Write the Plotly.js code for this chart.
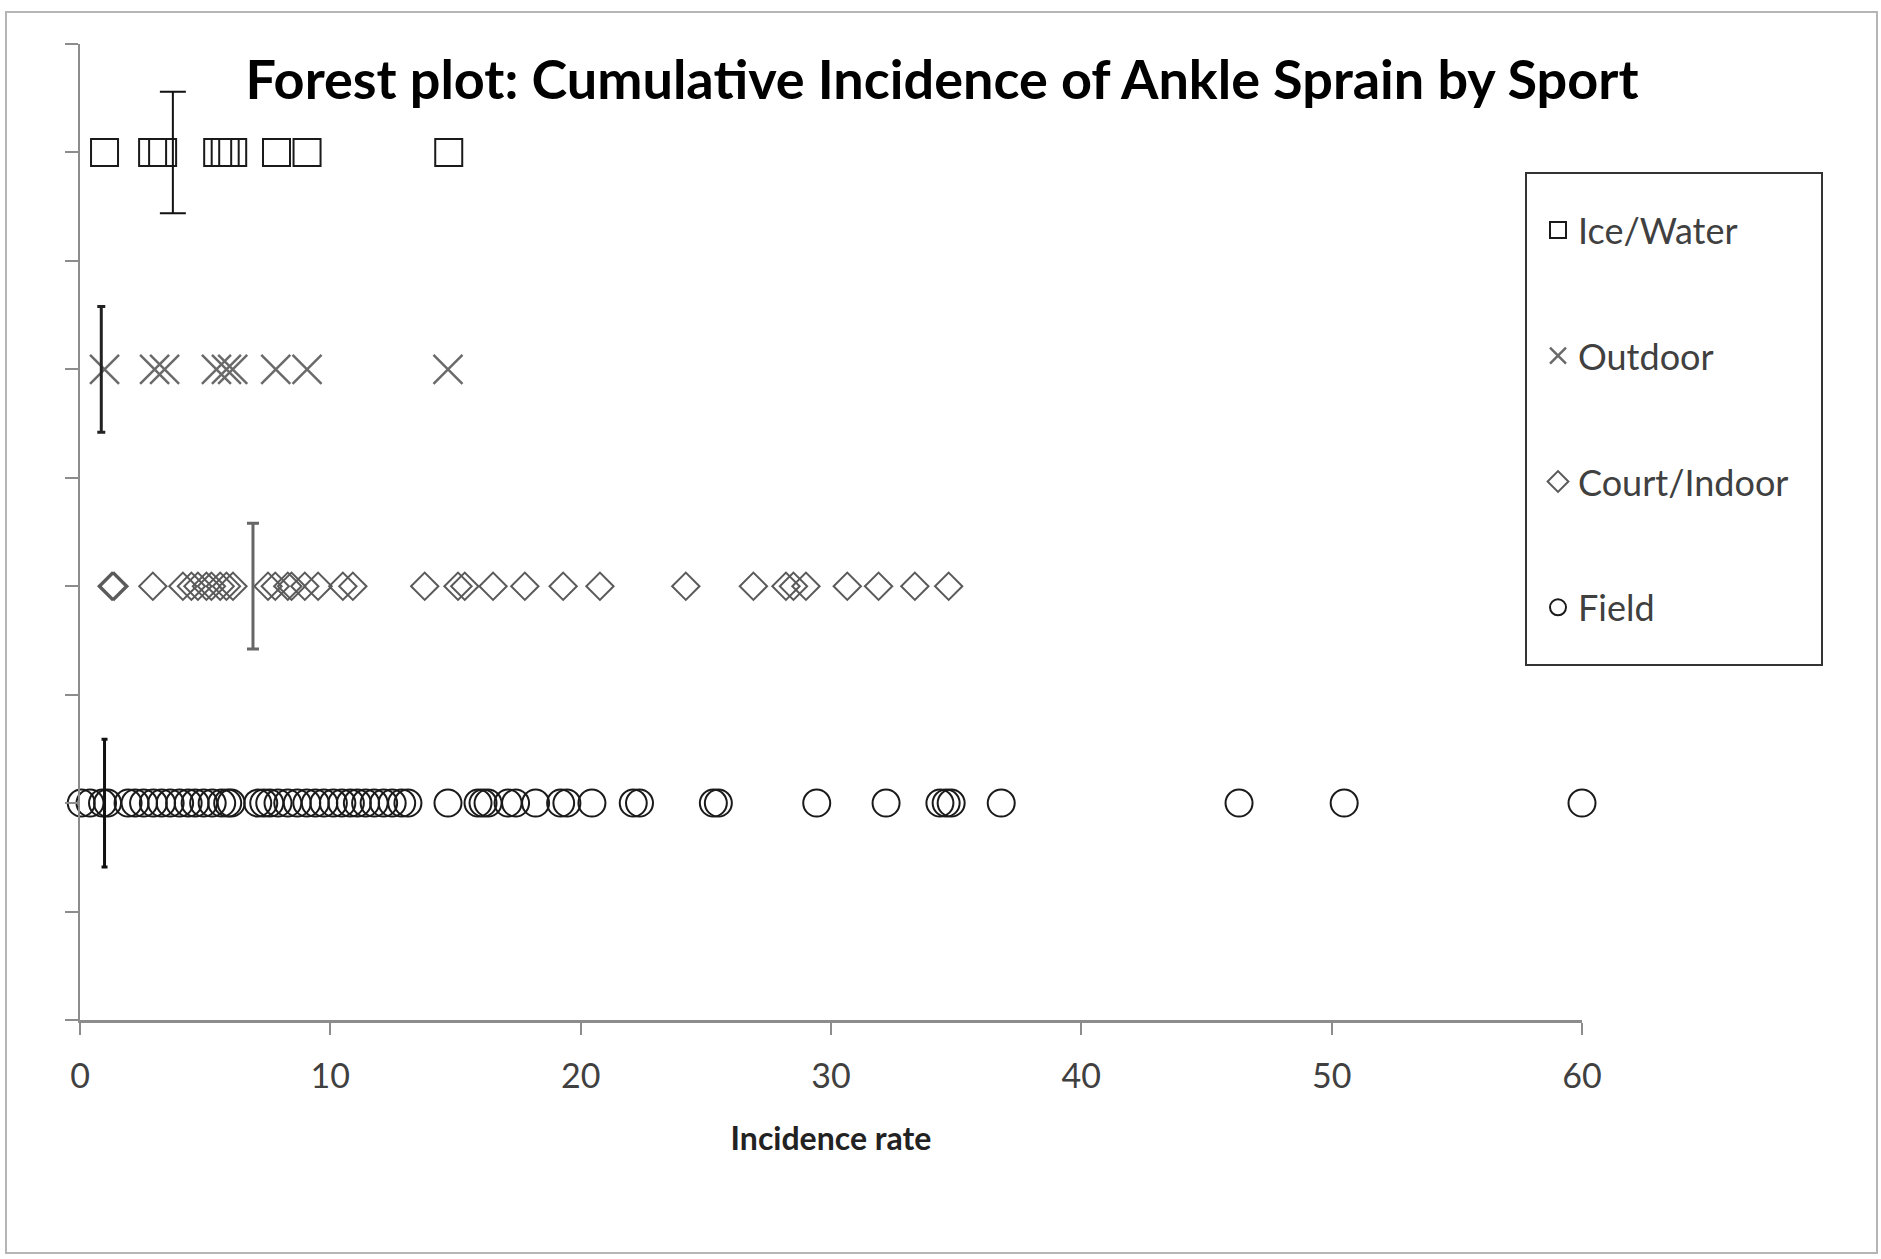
<!DOCTYPE html>
<html>
<head>
<meta charset="utf-8">
<script src="https://cdn.plot.ly/plotly-3.0.1.min.js"></script>
<style>html,body{margin:0;padding:0;background:#fff;}#chart{width:1881px;height:1259px;}</style>
</head>
<body>
<div id="chart"></div>
<script>
// ---- data ----
var seriesNames = ["Ice/Water", "Outdoor", "Court/Indoor", "Field"];
var rowPos = [4, 3, 2, 1];

var iceWater = [0.98, 2.9, 3.3, 5.5, 5.8, 6.1, 7.85, 9.07, 14.73];
var outdoor = [0.98, 2.98, 3.38, 5.45, 5.85, 6.1, 7.82, 9.07, 14.7];
var courtIndoor = [1.28, 1.36, 2.91, 4.11, 4.45, 4.71, 5.05, 5.25, 5.6, 5.85, 6.11,
  7.51, 7.8, 8.3, 8.45, 8.98, 9.51, 10.5, 10.9, 13.77, 15.1, 15.37, 16.5, 17.77,
  19.3, 20.77, 24.2, 26.9, 28.2, 28.5, 29.0, 30.65, 31.9, 33.35, 34.7];
var field = [0.05, 0.4, 0.9, 1.1,
  1.92, 2.2, 2.54, 2.93, 3.26, 3.6, 3.98, 4.32, 4.6, 4.94, 5.28, 5.66, 5.9, 6.04,
  7.1, 7.34, 7.58, 7.91, 8.3, 8.68, 9.06, 9.4, 9.74, 10.12, 10.46, 10.8, 11.08,
  11.41, 11.75, 12.13, 12.47, 12.85, 13.1,
  14.7, 15.9, 16.1, 16.3, 17.1, 17.4, 18.2, 19.2, 19.45, 20.45, 22.1, 22.35,
  25.3, 25.5, 29.43, 32.2, 34.35, 34.6, 34.8, 36.8, 46.3, 50.5, 60.0];

// pooled estimate marks (vertical bars) per series, same order as seriesNames
var pooledX = [3.71, 0.85, 6.91, 0.98];
var pooledHalfSpan = [0.28, 0.29, 0.29, 0.295];

var xTickVals = [0, 10, 20, 30, 40, 50, 60];
var yTickVals = [0, 0.5, 1, 1.5, 2, 2.5, 3, 3.5, 4, 4.5];

// ---- styles ----
var seriesData = [iceWater, outdoor, courtIndoor, field];
var markerStyles = [
  {symbol: "square-open", size: 27, color: "#1a1a1a", line: {width: 2, color: "#1a1a1a"}},
  {symbol: "x-thin-open", size: 29, color: "#6a6a6a", line: {width: 2.5, color: "#6a6a6a"}},
  {symbol: "diamond-open", size: 21, color: "#5a5a5a", line: {width: 2, color: "#5a5a5a"}},
  {symbol: "circle-open", size: 27, color: "#1a1a1a", line: {width: 2, color: "#1a1a1a"}}
];
var barStyles = [
  {color: "#111", thickness: 2, width: 13},
  {color: "#222", thickness: 3, width: 4},
  {color: "#666", thickness: 3, width: 6},
  {color: "#111", thickness: 3, width: 3}
];

var traces = [];
for (var i = 0; i < seriesNames.length; i++) {
  var ys = seriesData[i].map(function () { return rowPos[i]; });
  traces.push({
    type: "scatter", mode: "markers", name: seriesNames[i],
    legendgroup: "g" + i,
    x: seriesData[i], y: ys,
    marker: markerStyles[i],
    cliponaxis: false,
    hoverinfo: "x+name"
  });
}
for (var j = 0; j < seriesNames.length; j++) {
  traces.push({
    type: "scatter", mode: "markers", showlegend: false,
    x: [pooledX[j]], y: [rowPos[j]],
    marker: {size: 1, opacity: 0},
    error_y: {type: "data", symmetric: true, array: [pooledHalfSpan[j]],
      color: barStyles[j].color, thickness: barStyles[j].thickness, width: barStyles[j].width},
    hoverinfo: "x"
  });
}

// plot area: x 80..1582, y 44..1020
function px2x(px) { return (px - 80) / 1502; }
function py2y(py) { return (1020 - py) / 976; }

var layout = {
  width: 1881, height: 1259,
  margin: {l: 80, r: 299, t: 44, b: 239},
  paper_bgcolor: "#ffffff", plot_bgcolor: "#ffffff",
  font: {family: "Lato, 'Open Sans', sans-serif", color: "#404040"},
  title: {
    text: "<b>Forest plot: Cumulative Incidence of Ankle Sprain by Sport</b>",
    font: {family: "Lato, 'Open Sans', sans-serif", size: 54, color: "#000"},
    x: 942 / 1881, xanchor: "center", xref: "container",
    y: 1 - 80 / 1259, yanchor: "middle", yref: "container"
  },
  xaxis: {
    range: [0, 60], tickvals: xTickVals, ticktext: xTickVals.map(String),
    ticks: "outside", ticklen: 12, tickwidth: 2, tickcolor: "#8c8c8c",
    showline: true, linecolor: "#8c8c8c", linewidth: 3,
    showgrid: false, zeroline: false,
    tickfont: {size: 34, color: "#404040"},
    ticklabelstandoff: 12,
    title: {text: "<b>Incidence rate</b>", font: {size: 32, color: "#222"}, standoff: 34},
    automargin: false, fixedrange: true
  },
  yaxis: {
    range: [0, 4.5], tickvals: yTickVals, showticklabels: false,
    ticks: "outside", ticklen: 13, tickwidth: 2, tickcolor: "#8c8c8c",
    showline: true, linecolor: "#8c8c8c", linewidth: 2,
    showgrid: false, zeroline: false, automargin: false, fixedrange: true
  },
  legend: {
    x: px2x(1538), xanchor: "left", xref: "paper",
    y: py2y(200), yanchor: "top", yref: "paper",
    bgcolor: "rgba(0,0,0,0)", borderwidth: 0,
    font: {size: 36, color: "#404040"},
    traceorder: "grouped", tracegroupgap: 76,
    itemsizing: "trace"
  },
  shapes: [
    {type: "rect", xref: "paper", yref: "paper",
     x0: px2x(1526), x1: px2x(1822), y0: py2y(665), y1: py2y(173),
     line: {color: "#333", width: 2}, fillcolor: "rgba(0,0,0,0)", layer: "above"},
    {type: "rect", xref: "paper", yref: "paper",
     x0: px2x(6), x1: px2x(1877), y0: py2y(1253), y1: py2y(12),
     line: {color: "#b5b5b5", width: 2}, fillcolor: "rgba(0,0,0,0)", layer: "below"}
  ],
  showlegend: true
};

Plotly.newPlot("chart", traces, layout, {displayModeBar: false, staticPlot: true});
</script>
</body>
</html>
